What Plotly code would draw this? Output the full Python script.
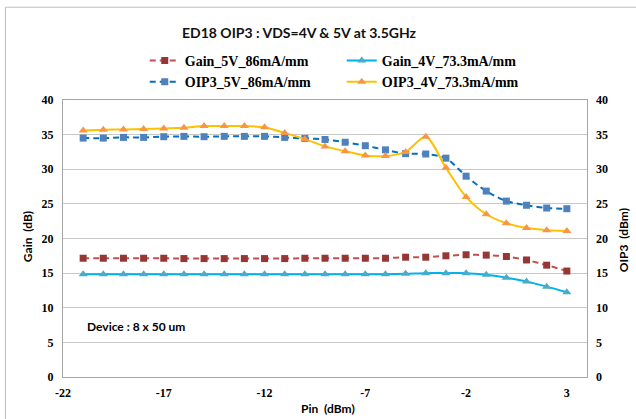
import plotly.graph_objects as go

pin = list(range(-21, 4))
gain_5v = [17.15, 17.15, 17.15, 17.15, 17.15, 17.1, 17.1, 17.1, 17.1, 17.1, 17.1, 17.15, 17.15,
           17.15, 17.15, 17.15, 17.3, 17.3, 17.5, 17.65, 17.6, 17.4, 16.9, 16.15, 15.3]
gain_4v = [14.85, 14.85, 14.85, 14.85, 14.85, 14.85, 14.85, 14.85, 14.85, 14.85, 14.85, 14.85, 14.85,
           14.85, 14.85, 14.85, 14.9, 15.0, 15.0, 15.0, 14.75, 14.35, 13.8, 13.05, 12.25]
oip3_5v = [34.5, 34.5, 34.6, 34.6, 34.7, 34.75, 34.7, 34.75, 34.75, 34.75, 34.6, 34.45, 34.3,
           33.9, 33.4, 32.8, 32.25, 32.2, 31.6, 29.0, 26.85, 25.4, 24.8, 24.4, 24.3]
oip3_4v = [35.6, 35.7, 35.75, 35.8, 35.9, 36.0, 36.25, 36.25, 36.25, 36.05, 35.25, 34.35, 33.3,
           32.6, 32.0, 31.9, 32.5, 34.7, 30.2, 26.0, 23.5, 22.2, 21.5, 21.2, 21.1]

x_ticks = [-22, -17, -12, -7, -2, 3]
y_ticks = [0, 5, 10, 15, 20, 25, 30, 35, 40]

SERIF = "Liberation Serif"
SANS = "Lato"
GRID = "#C8C8C8"
AXIS = "#A6A6A6"

fig = go.Figure()
fig.add_trace(go.Scatter(
    x=pin, y=gain_5v, name="Gain_5V_86mA/mm", mode="lines+markers",
    line=dict(color="#C0504D", width=2, dash="6px,4px", shape="spline", smoothing=0.8),
    marker=dict(symbol="square", size=7, color="#953735"), yaxis="y"))
fig.add_trace(go.Scatter(
    x=pin, y=gain_4v, name="Gain_4V_73.3mA/mm", mode="lines+markers",
    line=dict(color="#00B0F0", width=2, shape="spline", smoothing=0.8),
    marker=dict(symbol="triangle-up", size=8, color="#4BACC6"), yaxis="y"))
fig.add_trace(go.Scatter(
    x=pin, y=oip3_5v, name="OIP3_5V_86mA/mm", mode="lines+markers",
    line=dict(color="#0070C0", width=2, dash="6px,4px", shape="spline", smoothing=0.8),
    marker=dict(symbol="square", size=7, color="#4F81BD"), yaxis="y2"))
fig.add_trace(go.Scatter(
    x=pin, y=oip3_4v, name="OIP3_4V_73.3mA/mm", mode="lines+markers",
    line=dict(color="#FFC000", width=2, shape="spline", smoothing=0.8),
    marker=dict(symbol="triangle-up", size=8, color="#F79646"), yaxis="y2"))

tickfont = dict(family=SERIF, size=12, color="#000000", weight="bold")

fig.update_layout(
    width=636, height=419,
    margin=dict(l=63, r=49, t=100, b=42),
    paper_bgcolor="white", plot_bgcolor="white",
    showlegend=True,
    legend=dict(orientation="h", x=0.156, y=1.199, xanchor="left", yanchor="top",
                entrywidth=152, entrywidthmode="pixels", tracegroupgap=0,
                font=dict(family=SERIF, size=14, color="#000000", weight="bold"),
                bgcolor="rgba(0,0,0,0)", itemwidth=30),
    xaxis=dict(range=[-22, 4], tickmode="array", tickvals=x_ticks,
               ticktext=[str(v) for v in x_ticks], tickfont=tickfont,
               showgrid=False, zeroline=False, showline=True, linecolor=AXIS,
               linewidth=1, mirror=True, ticks="", ticklabelstandoff=5),
    yaxis=dict(range=[0, 40], tickmode="array", tickvals=y_ticks,
               ticktext=[str(v) for v in y_ticks], tickfont=tickfont,
               showgrid=True, gridcolor=GRID, gridwidth=1, zeroline=False,
               showline=True, linecolor=AXIS, linewidth=1, mirror=True, ticks="",
               ticklabelstandoff=6),
    yaxis2=dict(range=[0, 40], tickmode="array", tickvals=y_ticks,
                ticktext=[str(v) for v in y_ticks], tickfont=tickfont,
                overlaying="y", side="right", showgrid=False, zeroline=False,
                showline=False, ticks="", ticklabelstandoff=8),
    font=dict(family=SANS),
)

fig.add_annotation(text="ED18 OIP3 : VDS=4V &amp; 5V at 3.5GHz", xref="paper", yref="paper",
                   x=(299 - 63) / 524, y=(376.7 - 33) / 276.7, showarrow=False,
                   xanchor="center", yanchor="middle",
                   font=dict(family=SANS, size=14, color="#111111", weight="bold"))
fig.add_annotation(text="Gain  (dB)", xref="paper", yref="paper",
                   x=(27 - 63) / 524, y=(376.7 - 237) / 276.7, showarrow=False,
                   textangle=-90, xanchor="center", yanchor="middle",
                   font=dict(family=SANS, size=12, color="#000000", weight="bold"))
fig.add_annotation(text="OIP3  (dBm)", xref="paper", yref="paper",
                   x=(623 - 63) / 524, y=(376.7 - 240) / 276.7, showarrow=False,
                   textangle=-90, xanchor="center", yanchor="middle",
                   font=dict(family=SANS, size=12, color="#000000", weight="bold"))
fig.add_annotation(text="Pin  (dBm)", xref="paper", yref="paper",
                   x=(328 - 63) / 524, y=(376.7 - 408) / 276.7, showarrow=False,
                   xanchor="center", yanchor="middle",
                   font=dict(family=SANS, size=12, color="#000000", weight="bold"))
fig.add_annotation(text="Device : 8 x 50 um", xref="paper", yref="paper",
                   x=(85 - 63) / 524, y=(376.7 - 326.7) / 276.7, showarrow=False,
                   xanchor="left", yanchor="middle",
                   font=dict(family=SANS, size=12, color="#000000", weight="bold"))

# outer chart border (top and left edges visible)
fig.add_shape(type="rect", xref="paper", yref="paper",
              x0=(5.5 - 63) / 524, x1=(700 - 63) / 524,
              y0=(376.7 - 480) / 276.7, y1=(376.7 - 7.3) / 276.7,
              line=dict(color="#BFBFBF", width=1), fillcolor="rgba(0,0,0,0)", layer="below")

fig.write_html("out.html")
